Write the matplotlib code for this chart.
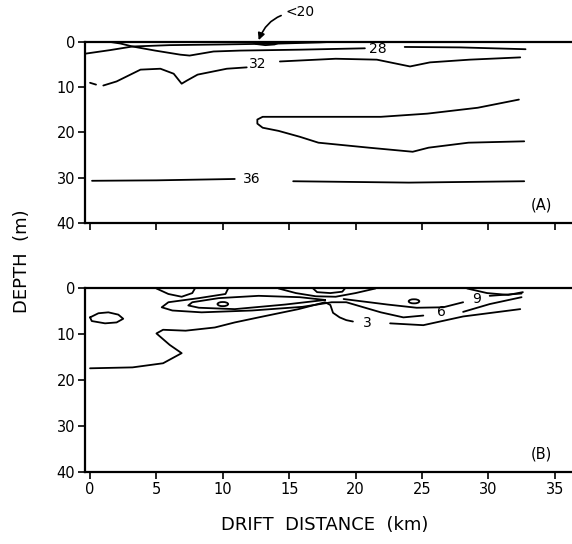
import matplotlib
matplotlib.use("Agg")
import matplotlib.pyplot as plt
from matplotlib.patches import Ellipse

plt.rcParams['font.family'] = ['DejaVu Sans']

# ---- panel A (salinity-like contours), x in km, depth in m ----
a20_x = [12.2, 12.5, 13.2, 13.9, 14.3, 14.6]
a20_d = [0.0, 0.55, 0.8, 0.65, 0.2, 0.0]

a28u_x = [-0.4, 1.5, 3.2, 6.0, 9.8, 14.3, 17.3, 18.8]
a28u_d = [2.7, 1.9, 1.1, 0.8, 0.66, 0.45, 0.2, 0.0]

a28_x = [1.3, 2.3, 3.2, 4.9, 6.8, 7.5, 9.3, 11.3, 15.8, 20.7]
a28_d = [0.0, 0.45, 1.1, 2.0, 2.9, 3.1, 2.2, 2.0, 1.8, 1.5]
a28r_x = [23.7, 27.9, 32.8]
a28r_d = [1.2, 1.3, 1.7]

a32dash_x = [0.0, 0.45]
a32dash_d = [9.1, 9.5]
a32_x = [1.0, 2.0, 3.8, 5.3, 6.3, 6.9, 7.3, 8.1, 10.3, 11.8]
a32_d = [9.7, 8.8, 6.2, 6.0, 7.1, 9.3, 8.6, 7.3, 6.0, 5.7]
a32r_x = [14.3, 18.5, 21.6, 24.1, 25.6, 28.6, 32.4]
a32r_d = [4.4, 3.8, 4.0, 5.5, 4.6, 4.0, 3.5]

a34_x = [32.3, 29.2, 25.4, 21.9, 17.2, 13.0, 12.6, 12.6, 13.0, 14.2, 15.8,
         17.2, 21.0, 24.3, 25.5, 28.5, 32.7]
a34_d = [12.8, 14.6, 15.9, 16.6, 16.6, 16.6, 17.2, 18.1, 19.0, 19.7, 21.0,
         22.3, 23.4, 24.3, 23.4, 22.3, 22.0]

a36_x = [0.15, 5.0, 10.9]
a36_d = [30.7, 30.6, 30.3]
a36r_x = [15.3, 24.0, 32.7]
a36r_d = [30.8, 31.1, 30.8]

a_labels = ['32', '28', '36']
a_label_x = [12.6, 21.7, 12.2]
a_label_d = [5.0, 1.6, 30.3]

# ---- panel B ----
b_oval_x = [0.0, 0.63, 1.38, 2.13, 2.5, 2.0, 1.13, 0.13, 0.0]
b_oval_d = [6.3, 5.4, 5.2, 5.7, 6.6, 7.4, 7.6, 7.1, 6.3]

b3_x = [0.0, 3.2, 5.5, 6.9, 6.0, 5.0, 5.5, 7.2, 9.4, 10.9, 12.7, 15.7, 17.7,
        18.1, 18.3, 18.8, 19.3, 19.8]
b3_d = [17.4, 17.2, 16.3, 14.1, 12.3, 9.8, 9.0, 9.2, 8.5, 7.4, 6.3, 4.5, 3.0,
        3.6, 5.3, 6.3, 6.9, 7.2]
b3r_x = [22.6, 25.1, 28.1, 32.4]
b3r_d = [7.6, 8.0, 6.1, 4.5]

b6_x = [10.4, 10.2, 8.2, 5.9, 5.4, 6.2, 8.4, 12.2, 16.0, 18.2, 19.3, 21.9,
        23.6, 25.1]
b6_d = [0.0, 1.2, 2.1, 3.0, 4.1, 4.8, 5.2, 4.8, 4.0, 3.0, 3.0, 5.2, 6.3, 5.9]
b6r_x = [28.1, 30.1, 32.5]
b6r_d = [5.1, 3.4, 1.9]

b9_x = [17.7, 14.7, 10.9, 8.2, 7.4, 7.7, 9.7, 12.7, 15.8, 17.7]
b9_d = [2.5, 3.5, 4.5, 4.2, 3.7, 3.0, 2.1, 1.6, 1.9, 2.5]
b9m_x = [19.1, 22.4, 24.6, 26.6, 28.1]
b9m_d = [2.3, 3.5, 4.2, 4.1, 3.0]
b9r_x = [30.1, 32.5]
b9r_d = [1.6, 1.1]

b_bowl1_x = [5.0, 5.9, 6.9, 7.7, 7.9]
b_bowl1_d = [0.0, 1.2, 1.8, 1.0, 0.0]
b_bowl2_x = [14.2, 15.5, 17.0, 18.5, 20.0, 21.5]
b_bowl2_d = [0.0, 1.0, 1.7, 1.8, 1.0, 0.0]
b_lens_x = [16.8, 17.1, 18.1, 19.0, 19.2]
b_lens_d = [0.0, 0.8, 1.0, 0.7, 0.0]
b_bowl3_x = [28.4, 29.9, 31.5, 32.6]
b_bowl3_d = [0.0, 1.0, 1.4, 0.8]

b_ovals_x = [10.0, 24.4]
b_ovals_d = [3.4, 2.8]

b_labels = ['3', '6', '9']
b_label_x = [20.9, 26.5, 29.1]
b_label_d = [7.6, 5.2, 2.4]

xticks = [0, 5, 10, 15, 20, 25, 30, 35]
yticks = [0, 10, 20, 30, 40]

lw = 1.3


def setup(ax, panel, show_x):
    ax.set_xlim(-0.38, 36.3)
    ax.set_ylim(40, 0)
    ax.set_xticks(xticks)
    ax.set_yticks(yticks)
    ax.set_yticklabels([str(t) for t in yticks])
    if show_x:
        ax.set_xticklabels([str(t) for t in xticks])
    else:
        ax.set_xticklabels([])
    ax.tick_params(direction='out', length=5, width=1.2, labelsize=10.5, pad=2)
    ax.spines['right'].set_visible(False)
    for s in ['top', 'left', 'bottom']:
        ax.spines[s].set_linewidth(1.6)
    ax.text(34.0, 36.0, panel, ha='center', va='center', fontsize=10.5)


fig = plt.figure(figsize=(5.72, 5.44), dpi=100)
ax1 = fig.add_axes([0.1486, 0.5901, 0.8514, 0.3336])
ax2 = fig.add_axes([0.1486, 0.1324, 0.8514, 0.3373])

setup(ax1, '(A)', False)
setup(ax2, '(B)', True)

for xs, ds in [(a20_x, a20_d), (a28u_x, a28u_d), (a28_x, a28_d), (a28r_x, a28r_d),
               (a32dash_x, a32dash_d), (a32_x, a32_d), (a32r_x, a32r_d),
               (a34_x, a34_d), (a36_x, a36_d), (a36r_x, a36r_d)]:
    ax1.plot(xs, ds, color='black', lw=lw, solid_capstyle='round')

for t, x, d in zip(a_labels, a_label_x, a_label_d):
    ax1.text(x, d, t, ha='center', va='center', fontsize=10)

ax1.annotate('<20', xy=(12.7, -0.3), xytext=(14.7, -6.4), ha='left', va='center',
             fontsize=10, annotation_clip=False,
             arrowprops=dict(arrowstyle='-|>', connectionstyle='arc3,rad=0.35',
                             color='black', lw=1.2, shrinkA=1, shrinkB=0))

for xs, ds in [(b_oval_x, b_oval_d), (b3_x, b3_d), (b3r_x, b3r_d), (b6_x, b6_d),
               (b6r_x, b6r_d), (b9_x, b9_d), (b9m_x, b9m_d), (b9r_x, b9r_d),
               (b_bowl1_x, b_bowl1_d), (b_bowl2_x, b_bowl2_d), (b_lens_x, b_lens_d),
               (b_bowl3_x, b_bowl3_d)]:
    ax2.plot(xs, ds, color='black', lw=lw, solid_capstyle='round')

for x, d in zip(b_ovals_x, b_ovals_d):
    ax2.add_patch(Ellipse((x, d), 0.8, 0.9, fill=False, lw=lw, color='black'))

for t, x, d in zip(b_labels, b_label_x, b_label_d):
    ax2.text(x, d, t, ha='center', va='center', fontsize=10)

fig.text(0.038, 0.52, 'DEPTH  (m)', rotation=90, ha='center', va='center', fontsize=13)
fig.text(0.568, 0.035, 'DRIFT  DISTANCE  (km)', ha='center', va='center', fontsize=13)

fig.savefig('out.png', dpi=100)
